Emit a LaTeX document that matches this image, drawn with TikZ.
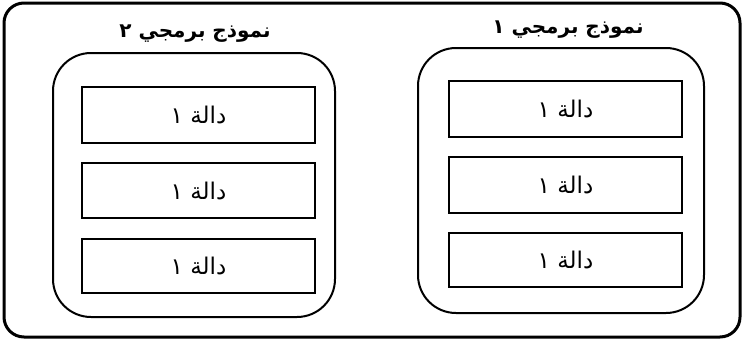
\documentclass[tikz,border=0pt]{standalone}
\usepackage{fontspec}
\newfontfamily\arabicfont[Script=Arabic]{DejaVu Sans}
\TeXXeTstate=1
\begin{document}
\begin{tikzpicture}[x=1pt,y=-1pt,
  outerbox/.style={draw, line width=3pt, rounded corners=20pt},
  modbox/.style={draw, line width=2pt, rounded corners=38pt},
  funcbox/.style={draw, line width=2pt, rectangle, inner sep=0pt, font=\arabicfont\fontsize{23}{26}\selectfont},
  title/.style={font=\arabicfont\bfseries\fontsize{20}{24}\selectfont, inner sep=0pt}]
\useasboundingbox (0,0) rectangle (744,340);
\draw[outerbox] (4,3) rectangle (740,337);
% left module
\draw[modbox] (53,53) rectangle (335,317);
\node[title] (t2) at (195,34) {\beginR نموذج برمجي ٢\endR};
\node[funcbox, minimum width=233pt, minimum height=56pt] (l1) at (198.5,115) {\beginR دالة ١\endR};
\node[funcbox, minimum width=233pt, minimum height=55pt] (l2) at (198.5,190.5) {\beginR دالة ١\endR};
\node[funcbox, minimum width=233pt, minimum height=54pt] (l3) at (198.5,266) {\beginR دالة ١\endR};
% right module
\draw[modbox] (418,48) rectangle (704,313);
\node[title] (t1) at (568,30) {\beginR نموذج برمجي ١\endR};
\node[funcbox, minimum width=233pt, minimum height=56pt] (r1) at (565.5,109) {\beginR دالة ١\endR};
\node[funcbox, minimum width=233pt, minimum height=56pt] (r2) at (565.5,185) {\beginR دالة ١\endR};
\node[funcbox, minimum width=233pt, minimum height=54pt] (r3) at (565.5,260) {\beginR دالة ١\endR};
\end{tikzpicture}
\end{document}
